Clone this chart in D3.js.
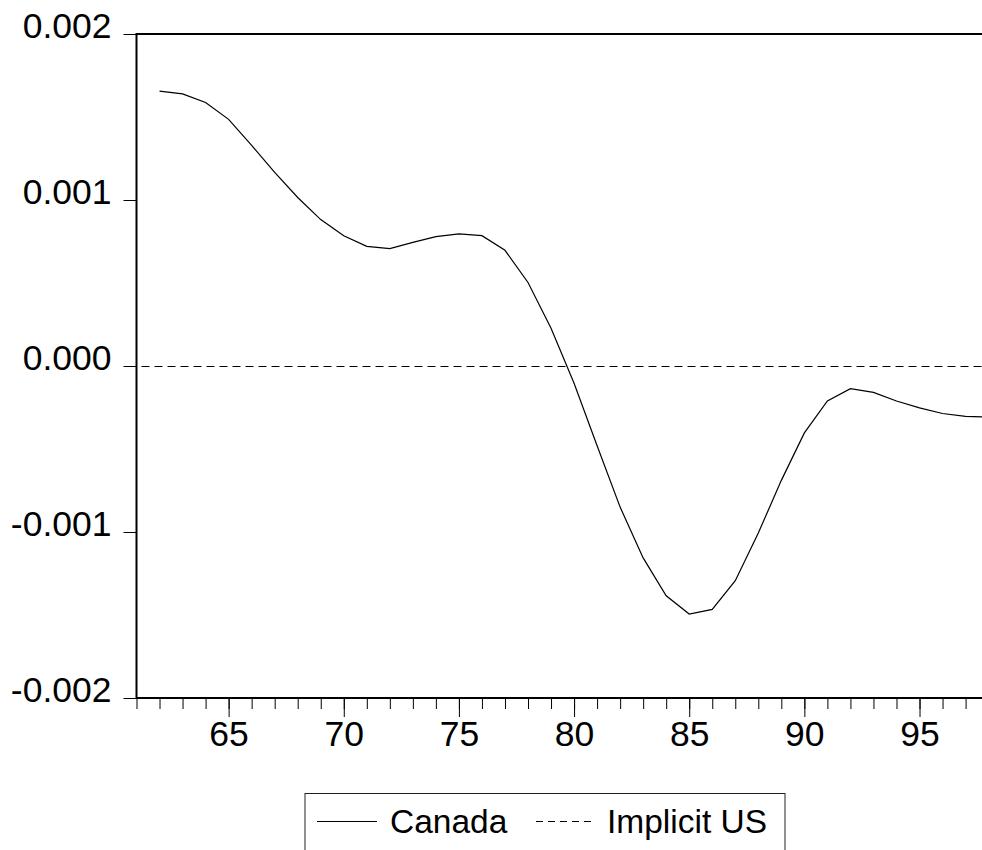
<!DOCTYPE html>
<html>
<head>
<meta charset="utf-8">
<script src="https://cdn.jsdelivr.net/npm/d3@7"></script>
<style>
  body { margin: 0; background: #fff; }
  svg { display: block; font-family: "Liberation Sans", Arial, sans-serif; }
</style>
</head>
<body>
<div id="chart"></div>
<script>
// Years and series values
const years = [62, 63, 64, 65, 66, 67, 68, 69, 70, 71, 72, 73, 74, 75, 76, 77, 78, 79, 80,
  81, 82, 83, 84, 85, 86, 87, 88, 89, 90, 91, 92, 93, 94, 95, 96, 97, 98];
const canada = [0.001656, 0.001639, 0.001587, 0.001486, 0.001329, 0.001166, 0.001015, 0.000882,
  0.000785, 0.000721, 0.000707, 0.000745, 0.000779, 0.000796, 0.000785, 0.000697, 0.000503,
  0.000228, -0.000104, -0.000480, -0.000850, -0.001156, -0.001384, -0.001494, -0.001466,
  -0.001293, -0.001006, -0.000689, -0.000403, -0.000210, -0.000137, -0.000159, -0.000211,
  -0.000252, -0.000286, -0.000304, -0.000308];
const usYears = [61, 98];
const implicitUS = [0, 0];

const yTicks = [-0.002, -0.001, 0, 0.001, 0.002];
const xMajor = [65, 70, 75, 80, 85, 90, 95];
const xMinor = d3.range(61, 99);
const seriesNames = ["Canada", "Implicit US"];

const width = 982, height = 850;
const margin = {top: 34, left: 136.5, bottom: 698};
const fontSize = 35.5;

const svg = d3.select("#chart")
  .append("svg")
  .attr("width", width)
  .attr("height", height);

const x = d3.scaleLinear()
  .domain([61, 98])
  .range([margin.left, margin.left + 37 * 23.03]);

const y = d3.scaleLinear()
  .domain([-0.002, 0.002])
  .range([margin.bottom, margin.top]);

// frame (right side falls off the picture)
svg.append("rect")
  .attr("x", x(61))
  .attr("y", y(0.002))
  .attr("width", x(98) - x(61))
  .attr("height", y(-0.002) - y(0.002))
  .attr("fill", "none")
  .attr("stroke", "#000")
  .attr("stroke-width", 2);

// y axis
const yAxis = svg.append("g")
  .attr("transform", `translate(${x(61)},0)`)
  .call(d3.axisLeft(y)
    .tickValues(yTicks)
    .tickSize(13)
    .tickPadding(12)
    .tickFormat(d => d.toFixed(3)));
yAxis.select(".domain").remove();
yAxis.selectAll("text")
  .attr("dy", "0.09em")
  .style("font-size", fontSize + "px")
  .style("font-family", "Liberation Sans, Arial, sans-serif")
  .attr("fill", "#000");

// x axis: minor ticks every year, major every 5
const xMinorAxis = svg.append("g")
  .attr("transform", `translate(0,${y(-0.002)})`)
  .call(d3.axisBottom(x).tickValues(xMinor).tickSize(11).tickFormat(""));
xMinorAxis.select(".domain").remove();

const xAxis = svg.append("g")
  .attr("transform", `translate(0,${y(-0.002)})`)
  .call(d3.axisBottom(x).tickValues(xMajor).tickSize(19).tickPadding(4));
xAxis.select(".domain").remove();
xAxis.selectAll("text")
  .style("font-size", fontSize + "px")
  .style("font-family", "Liberation Sans, Arial, sans-serif")
  .attr("fill", "#000");

// Implicit US (dashed)
svg.append("path")
  .datum(usYears.map((d, i) => [d, implicitUS[i]]))
  .attr("fill", "none")
  .attr("stroke", "#000")
  .attr("stroke-width", 1)
  .attr("stroke-dasharray", "8,5")
  .attr("stroke-dashoffset", -5)
  .attr("transform", "translate(0,0.5)")
  .attr("d", d3.line().x(d => x(d[0])).y(d => y(d[1])));

// Canada (solid)
svg.append("path")
  .datum(years.map((d, i) => [d, canada[i]]))
  .attr("fill", "none")
  .attr("stroke", "#000")
  .attr("stroke-width", 1.2)
  .attr("d", d3.line().x(d => x(d[0])).y(d => y(d[1])));

// legend
const legend = svg.append("g");
legend.append("rect")
  .attr("x", 305)
  .attr("y", 793.5)
  .attr("width", 480)
  .attr("height", 70)
  .attr("fill", "none")
  .attr("stroke", "#222")
  .attr("stroke-width", 1);

const legendItems = [
  {name: seriesNames[0], x1: 317, x2: 377, tx: 390, dash: null},
  {name: seriesNames[1], x1: 536, x2: 592, tx: 607, dash: "7,5"}
];
legendItems.forEach(item => {
  legend.append("line")
    .attr("x1", item.x1)
    .attr("x2", item.x2)
    .attr("y1", 821.5)
    .attr("y2", 821.5)
    .attr("stroke", "#000")
    .attr("stroke-width", 1)
    .attr("stroke-dasharray", item.dash);
  legend.append("text")
    .attr("x", item.tx)
    .attr("y", 833)
    .style("font-size", "33.5px")
    .text(item.name);
});
</script>
</body>
</html>
